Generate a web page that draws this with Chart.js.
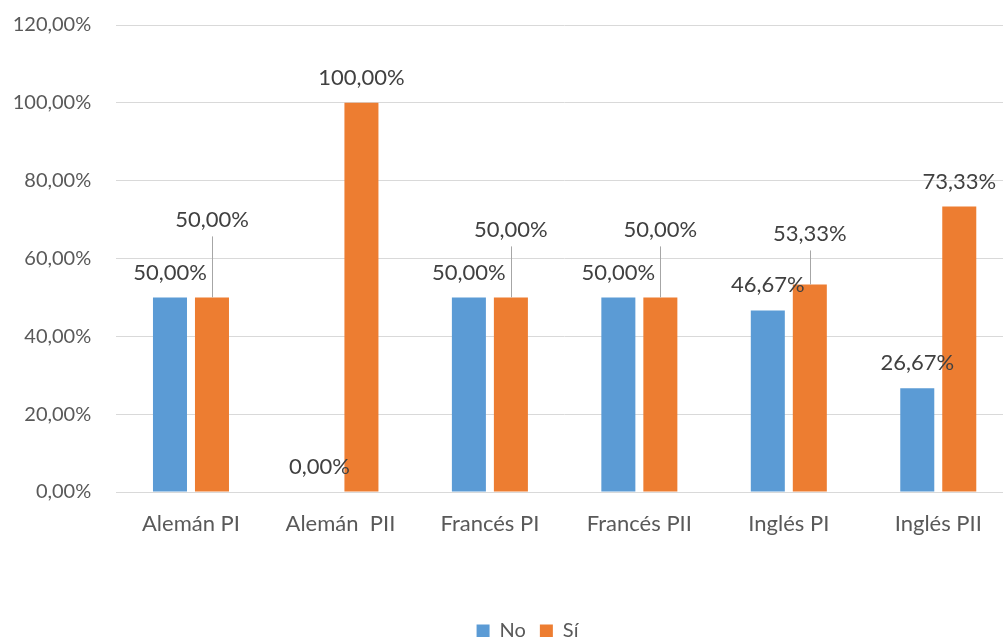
<!DOCTYPE html>
<html>
<head>
<meta charset="utf-8">
<script src="https://cdn.jsdelivr.net/npm/chart.js@4.4.1/dist/chart.umd.min.js"></script>
<style>
    html, body { margin: 0; padding: 0; background: #fff; }
    #frame { width: 1003px; height: 637px; overflow: hidden; }
    #wrap { width: 1013px; height: 637px; }
</style>
</head>
<body>
<div id="frame"><div id="wrap"><canvas id="myChart"></canvas></div></div>
<script>
const categories = ["Alemán PI", "Alemán  PII", "Francés PI", "Francés PII", "Inglés PI", "Inglés PII"];
const noValues = [50, 0, 50, 50, 46.67, 26.67];
const siValues = [50, 100, 50, 50, 53.33, 73.33];
const yTicks = [0, 20, 40, 60, 80, 100, 120];

// how far above the bar top each value label sits (px), per series
const labelLift = [
    [25, 25, 25, 25, 25, 25],
    [78, 25, 68, 68, 51, 25]
];

const fmt = v => v.toFixed(2).replace(".", ",") + "%";
const FONT = "Lato, 'Open Sans', sans-serif";

// value labels above bars, with a thin leader line when the label is lifted
const valueLabels = {
    id: "valueLabels",
    afterDatasetsDraw(chart) {
        const ctx = chart.ctx;
        ctx.save();
        ctx.font = "22px " + FONT;
        ctx.textAlign = "center";
        ctx.textBaseline = "middle";
        chart.data.datasets.forEach((ds, di) => {
            const meta = chart.getDatasetMeta(di);
            meta.data.forEach((bar, i) => {
                const lift = labelLift[di][i];
                const ty = bar.y - lift;
                if (lift > 30) {
                    ctx.strokeStyle = "#a6a6a6";
                    ctx.lineWidth = 1;
                    ctx.beginPath();
                    ctx.moveTo(Math.round(bar.x) + 0.5, ty + 17);
                    ctx.lineTo(Math.round(bar.x) + 0.5, bar.y);
                    ctx.stroke();
                }
                ctx.fillStyle = "#404040";
                ctx.fillText(fmt(ds.data[i]), bar.x, ty);
            });
        });
        ctx.restore();
    }
};

// nudge the legend to where it sits in the original layout
const legendShift = {
    id: "legendShift",
    afterLayout(chart) {
        const lg = chart.legend;
        const dx = 21;
        const dy = 629 - (lg.top + lg.height / 2);
        lg.left += dx; lg.right += dx;
        lg.top += dy; lg.bottom += dy;
    }
};

const drawChart = () => {
    new Chart("myChart", {
        type: "bar",
        data: {
            labels: categories,
            datasets: [{
                label: "No",
                data: noValues,
                backgroundColor: "#5B9BD5",
                categoryPercentage: 0.562,
                barPercentage: 0.81
            }, {
                label: "Sí",
                data: siValues,
                backgroundColor: "#ED7D31",
                categoryPercentage: 0.562,
                barPercentage: 0.81
            }]
        },
        options: {
            responsive: true,
            maintainAspectRatio: false,
            animation: false,
            layout: { padding: { top: 25, left: 0, right: 0, bottom: 0 } },
            scales: {
                x: {
                    grid: { display: false, drawTicks: false },
                    border: { display: true, color: "#d9d9d9", width: 1 },
                    ticks: {
                        padding: 19,
                        color: "#595959",
                        font: { family: FONT, size: 22 }
                    },
                    afterFit: scale => {
                        scale.height = 637 - 492 - scale.chart.legend.height;
                    }
                },
                y: {
                    min: 0,
                    max: 120,
                    afterBuildTicks: scale => {
                        scale.ticks = yTicks.map(v => ({ value: v }));
                    },
                    grid: { color: "#d9d9d9", lineWidth: 1, drawTicks: false },
                    border: { display: false },
                    ticks: {
                        padding: 25,
                        color: "#595959",
                        font: { family: FONT, size: 20 },
                        callback: v => fmt(v)
                    },
                    afterFit: scale => {
                        scale.width = 116.25;
                        scale.paddingTop = 0;
                        scale.paddingBottom = 0;
                    }
                }
            },
            plugins: {
                legend: {
                    position: "bottom",
                    labels: {
                        boxWidth: 13,
                        boxHeight: 13,
                        color: "#595959",
                        font: { family: FONT, size: 20 },
                        padding: 14
                    }
                },
                tooltip: { enabled: false }
            }
        },
        plugins: [valueLabels, legendShift]
    });
}

document.fonts.load("20px Lato").then(drawChart, drawChart);
</script>
</body>
</html>
